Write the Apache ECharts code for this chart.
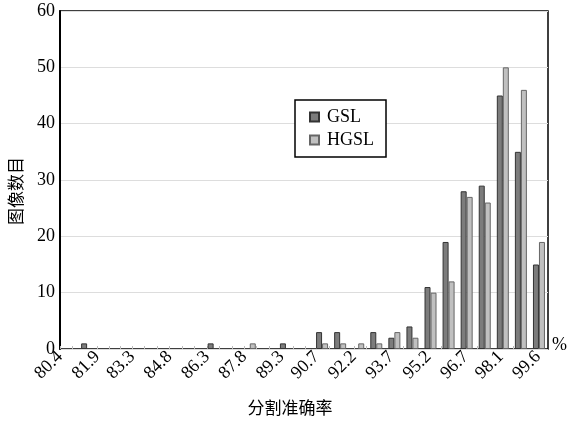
<!DOCTYPE html>
<html><head><meta charset="utf-8">
<script src="https://cdn.jsdelivr.net/npm/echarts@6/dist/echarts.min.js"></script>
<style>html,body{margin:0;padding:0;background:#fff}#c{width:567px;height:423px}</style>
</head><body><div id="c"></div>
<script>
// 27 histogram bins spanning 80.4 .. 100 (%)
var binCount = 27;
var bins = [];
for (var i = 0; i < binCount; i++) bins.push('b' + i);
var gslValues  = [0,1,0,0,0,0,0,0,1,0,0,0,1,0,3,3,0,3,2,4,11,19,28,29,45,35,15];
var hgslValues = [0,0,0,0,0,0,0,0,0,0,1,0,0,0,1,1,1,1,3,2,10,12,27,26,50,46,19];
var tickLabels = ['80.4','81.9','83.3','84.8','86.3','87.8','89.3','90.7','92.2','93.7','95.2','96.7','98.1','99.6'];
var xMin = 80.4, xMax = 100;

var tickValues = tickLabels.map(function(s){return parseFloat(s);});
var minorTicks = [];
for (var k = 0; k < tickValues.length - 1; k++) {
  var a = tickValues[k], b = tickValues[k+1];
  minorTicks.push(a, a + (b-a)/3, a + 2*(b-a)/3);
}
minorTicks.push(tickValues[tickValues.length-1]);
function hideZero(arr){ return arr.map(function(v){ return v === 0 ? null : v; }); }

var serif = 'Liberation Serif, Noto Sans CJK SC, serif';
var chart = echarts.init(document.getElementById('c'));
chart.setOption({
  animation: false,
  backgroundColor: '#fff',
  grid: {left: 60, right: 19, top: 11, bottom: 69, show: true, borderColor: '#000', borderWidth: 1.5, backgroundColor: 'transparent'},
  legend: {
    left: 295, top: 100, orient: 'vertical', icon: 'rect',
    backgroundColor: '#fff', borderColor: '#000', borderWidth: 1.5,
    padding: [8, 12, 8, 14], itemWidth: 9, itemHeight: 9, itemGap: 5,
    textStyle: {fontFamily: serif, fontSize: 18, color: '#000', padding: [0, 0, 0, 3]},
    data: ['GSL', 'HGSL']
  },
  xAxis: [
    {type: 'category', data: bins, boundaryGap: true, show: false, gridIndex: 0},
    {type: 'value', min: xMin, max: xMax, position: 'bottom',
     name: '分割准确率', nameLocation: 'middle', nameGap: 52,
     nameTextStyle: {fontFamily: serif, fontSize: 17, color: '#000', padding: [0, 28, 0, 0]},
     axisLine: {show: false}, splitLine: {show: false},
     axisTick: {show: true, inside: true, length: 3, customValues: minorTicks, lineStyle: {color: '#bbb'}},
     axisLabel: {customValues: tickValues, rotate: 45, margin: 5, fontFamily: serif, fontSize: 18, color: '#000',
       formatter: function(v){ var i = tickValues.indexOf(v); return i >= 0 ? tickLabels[i] : ''; }}
    }
  ],
  yAxis: {
    type: 'value', min: 0, max: 60, interval: 10,
    name: '图像数目', nameLocation: 'middle', nameGap: 32, nameRotate: 90,
    nameTextStyle: {fontFamily: serif, fontSize: 17, color: '#000', padding: [0, 22, 0, 0]},
    axisLine: {show: true, lineStyle: {color: '#000', width: 2}},
    axisTick: {show: false},
    splitLine: {lineStyle: {color: '#ddd', width: 1}},
    axisLabel: {fontFamily: serif, fontSize: 18, color: '#000', margin: 5}
  },
  graphic: [{type: 'text', left: 552, top: 336, style: {text: '%', font: '18px Liberation Serif', fill: '#000'}}],
  series: [
    {name: 'GSL', type: 'bar', xAxisIndex: 0, data: hideZero(gslValues), barWidth: 6, barGap: '0%',
     itemStyle: {color: '#7c7c7c', borderColor: '#333', borderWidth: 1}},
    {name: 'HGSL', type: 'bar', xAxisIndex: 0, data: hideZero(hgslValues), barWidth: 6, barGap: '0%',
     itemStyle: {color: '#c0c0c0', borderColor: '#666', borderWidth: 1}}
  ]
});
</script></body></html>
